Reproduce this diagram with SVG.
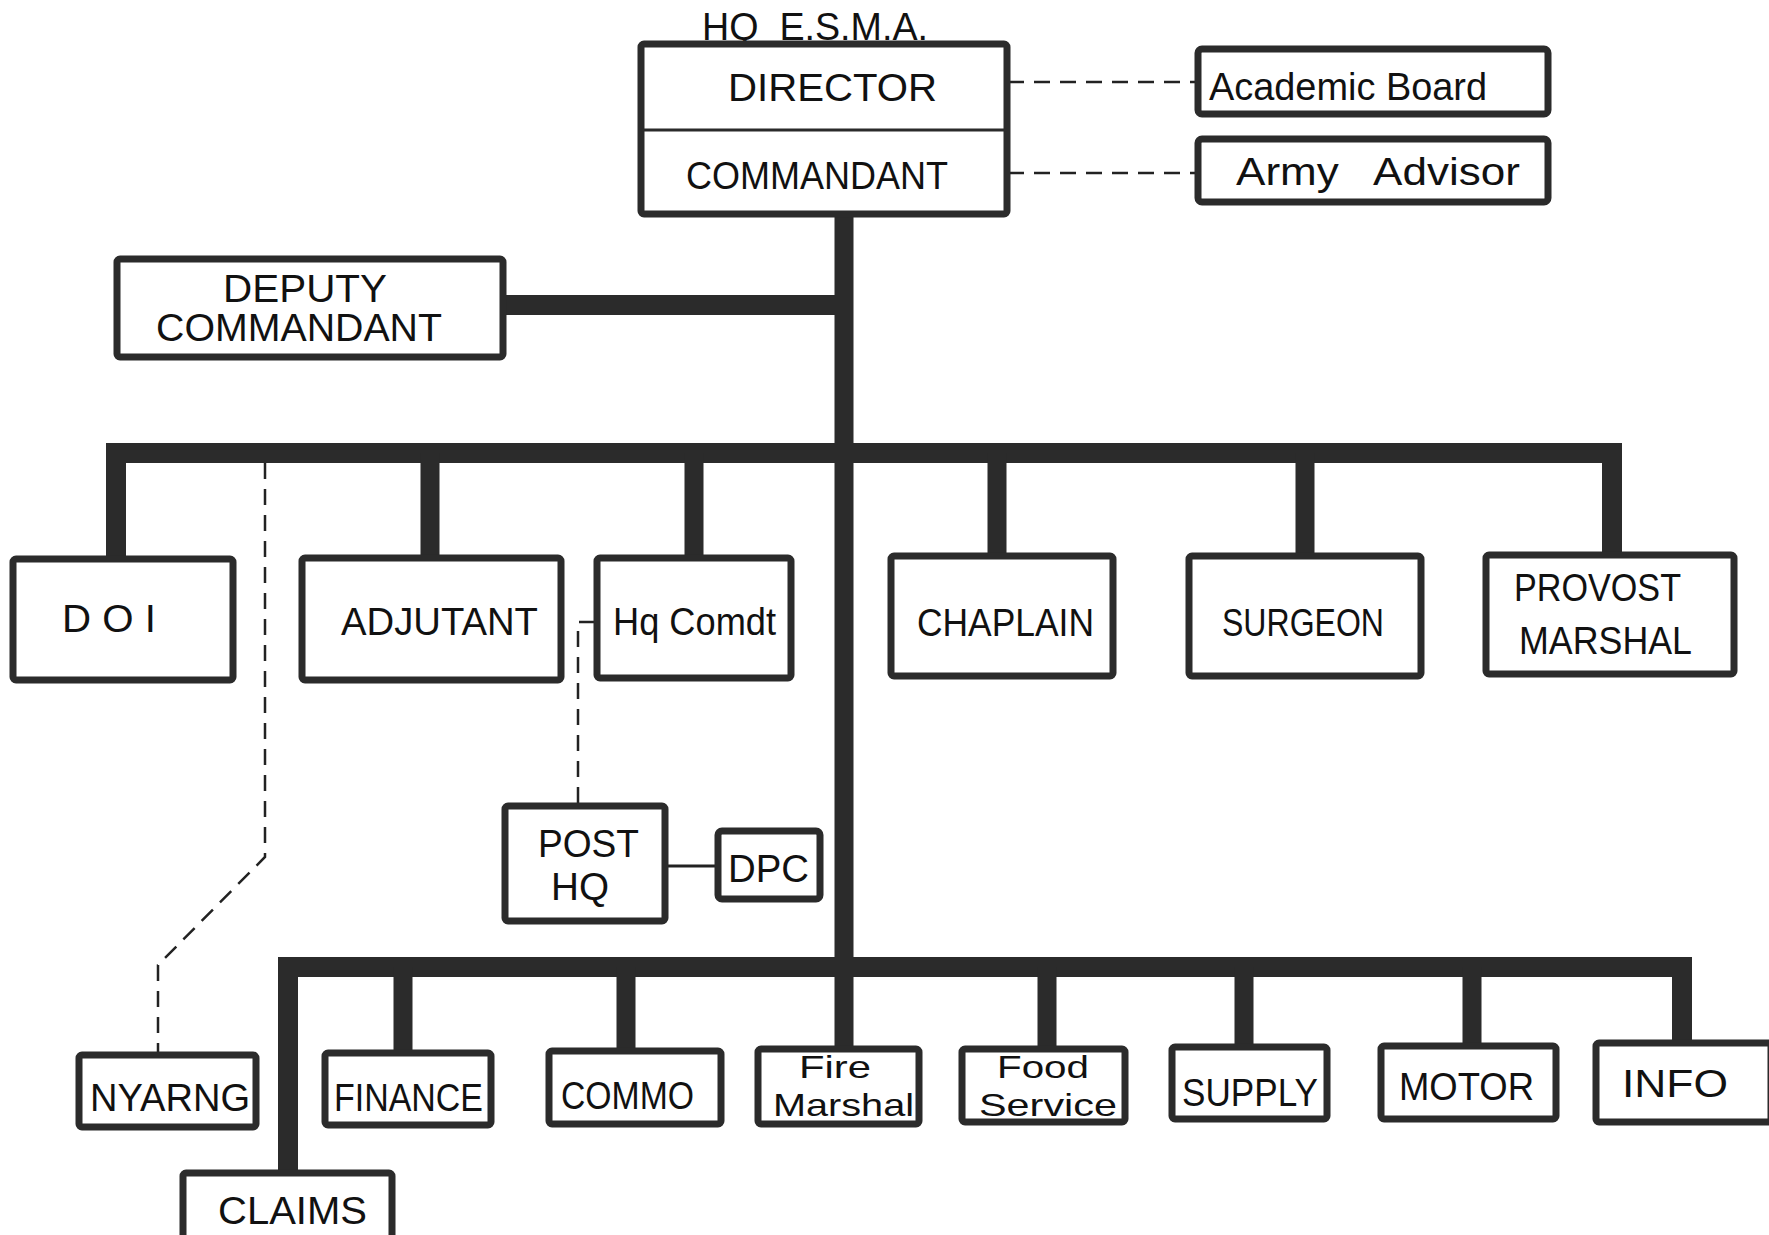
<svg xmlns="http://www.w3.org/2000/svg" width="1769" height="1235" viewBox="0 0 1769 1235">
<style>
.box{fill:#fff;stroke:#2b2b2b;stroke-width:7;stroke-linejoin:round}
.t{font-family:"Liberation Sans","DejaVu Sans",Arial,sans-serif;fill:#111;font-size:38px}
.s{font-size:32px}
.bar{stroke:#2b2b2b;fill:none;stroke-width:19}
.thick{stroke-width:20}
.dash{stroke:#222;stroke-width:2.5;stroke-dasharray:16 10;fill:none}
.thin{stroke:#222;stroke-width:3;fill:none}
</style>
<rect width="1769" height="1235" fill="#fff"/>
<g id="connectors">
  <line class="bar" x1="844" y1="212" x2="844" y2="1050"/>
  <line class="bar thick" x1="502" y1="305" x2="844" y2="305"/>
  <polyline class="bar thick" points="116,560 116,453 1612,453 1612,556"/>
  <line class="bar" x1="430" y1="453" x2="430" y2="558"/>
  <line class="bar" x1="694" y1="453" x2="694" y2="558"/>
  <line class="bar" x1="997" y1="453" x2="997" y2="556"/>
  <line class="bar" x1="1305" y1="453" x2="1305" y2="556"/>
  <polyline class="bar thick" points="288,1174 288,967 1682,967 1682,1044"/>
  <line class="bar" x1="403" y1="967" x2="403" y2="1053"/>
  <line class="bar" x1="626" y1="967" x2="626" y2="1051"/>
  <line class="bar" x1="1047" y1="967" x2="1047" y2="1049"/>
  <line class="bar" x1="1244" y1="967" x2="1244" y2="1047"/>
  <line class="bar" x1="1472" y1="967" x2="1472" y2="1046"/>
  <line class="dash" x1="1008" y1="82" x2="1196" y2="82"/>
  <line class="dash" x1="1008" y1="173" x2="1196" y2="173"/>
  <polyline class="dash" points="265,463 265,857 158,965 158,1055"/>
  <polyline class="dash" points="595,622 578,622 578,806"/>
  <line class="thin" x1="666" y1="866" x2="718" y2="866"/>
</g>
<g id="hq-esma">
  <text class="t" x="702" y="40" textLength="226" lengthAdjust="spacingAndGlyphs" xml:space="preserve">HQ  E.S.M.A.</text>
</g>
<g id="director-commandant">
  <rect class="box" x="641" y="44" width="366" height="170" rx="3"/>
  <line x1="641" y1="130" x2="1007" y2="130" stroke="#2b2b2b" stroke-width="3"/>
  <text class="t" x="728" y="101" textLength="209" lengthAdjust="spacingAndGlyphs">DIRECTOR</text>
  <text class="t" x="686" y="189" textLength="262" lengthAdjust="spacingAndGlyphs">COMMANDANT</text>
</g>
<g id="academic-board">
  <rect class="box" x="1198" y="49" width="350" height="65" rx="4"/>
  <text class="t" x="1209" y="100" textLength="278" lengthAdjust="spacingAndGlyphs">Academic Board</text>
</g>
<g id="army-advisor">
  <rect class="box" x="1198" y="139" width="350" height="63" rx="4"/>
  <text class="t" x="1236" y="185" textLength="284" lengthAdjust="spacingAndGlyphs" xml:space="preserve">Army   Advisor</text>
</g>
<g id="deputy-commandant">
  <rect class="box" x="117" y="259" width="386" height="98" rx="3"/>
  <text class="t" x="223" y="302" textLength="164" lengthAdjust="spacingAndGlyphs">DEPUTY</text>
  <text class="t" x="156" y="341" textLength="286" lengthAdjust="spacingAndGlyphs">COMMANDANT</text>
</g>
<g id="doi">
  <rect class="box" x="13" y="559" width="220" height="121" rx="3"/>
  <text class="t" x="62" y="632" textLength="94" lengthAdjust="spacingAndGlyphs" xml:space="preserve">D O I</text>
</g>
<g id="adjutant">
  <rect class="box" x="302" y="558" width="259" height="122" rx="3"/>
  <text class="t" x="341" y="635" textLength="197" lengthAdjust="spacingAndGlyphs">ADJUTANT</text>
</g>
<g id="hq-comdt">
  <rect class="box" x="597" y="558" width="194" height="120" rx="3"/>
  <text class="t" x="613" y="635" textLength="163" lengthAdjust="spacingAndGlyphs">Hq Comdt</text>
</g>
<g id="chaplain">
  <rect class="box" x="891" y="556" width="222" height="120" rx="3"/>
  <text class="t" x="917" y="636" textLength="177" lengthAdjust="spacingAndGlyphs">CHAPLAIN</text>
</g>
<g id="surgeon">
  <rect class="box" x="1189" y="556" width="232" height="120" rx="3"/>
  <text class="t" x="1222" y="636" textLength="162" lengthAdjust="spacingAndGlyphs">SURGEON</text>
</g>
<g id="provost-marshal">
  <rect class="box" x="1486" y="555" width="248" height="119" rx="3"/>
  <text class="t" x="1514" y="601" textLength="167" lengthAdjust="spacingAndGlyphs">PROVOST</text>
  <text class="t" x="1519" y="654" textLength="173" lengthAdjust="spacingAndGlyphs">MARSHAL</text>
</g>
<g id="post-hq">
  <rect class="box" x="505" y="806" width="160" height="115" rx="3"/>
  <text class="t" x="538" y="857" textLength="101" lengthAdjust="spacingAndGlyphs">POST</text>
  <text class="t" x="551" y="900" textLength="58" lengthAdjust="spacingAndGlyphs">HQ</text>
</g>
<g id="dpc">
  <rect class="box" x="718" y="831" width="102" height="68" rx="4"/>
  <text class="t" x="728" y="882" textLength="81" lengthAdjust="spacingAndGlyphs">DPC</text>
</g>
<g id="nyarng">
  <rect class="box" x="79" y="1055" width="177" height="72" rx="3"/>
  <text class="t" x="90" y="1111" textLength="160" lengthAdjust="spacingAndGlyphs">NYARNG</text>
</g>
<g id="finance">
  <rect class="box" x="325" y="1053" width="166" height="72" rx="3"/>
  <text class="t" x="334" y="1111" textLength="149" lengthAdjust="spacingAndGlyphs">FINANCE</text>
</g>
<g id="commo">
  <rect class="box" x="549" y="1051" width="172" height="73" rx="3"/>
  <text class="t" x="561" y="1109" textLength="133" lengthAdjust="spacingAndGlyphs">COMMO</text>
</g>
<g id="fire-marshal">
  <rect class="box" x="758" y="1049" width="161" height="75" rx="3"/>
  <text class="t s" x="799" y="1078" textLength="72" lengthAdjust="spacingAndGlyphs">Fire</text>
  <text class="t s" x="773" y="1116" textLength="141" lengthAdjust="spacingAndGlyphs">Marshal</text>
</g>
<g id="food-service">
  <rect class="box" x="962" y="1049" width="163" height="73" rx="3"/>
  <text class="t s" x="997" y="1078" textLength="92" lengthAdjust="spacingAndGlyphs">Food</text>
  <text class="t s" x="979" y="1116" textLength="138" lengthAdjust="spacingAndGlyphs">Service</text>
</g>
<g id="supply">
  <rect class="box" x="1172" y="1047" width="155" height="72" rx="3"/>
  <text class="t" x="1182" y="1106" textLength="136" lengthAdjust="spacingAndGlyphs">SUPPLY</text>
</g>
<g id="motor">
  <rect class="box" x="1381" y="1046" width="175" height="73" rx="3"/>
  <text class="t" x="1399" y="1100" textLength="135" lengthAdjust="spacingAndGlyphs">MOTOR</text>
</g>
<g id="info">
  <rect class="box" x="1596" y="1043" width="175" height="79" rx="3"/>
  <text class="t" x="1622" y="1097" textLength="106" lengthAdjust="spacingAndGlyphs">INFO</text>
</g>
<g id="claims">
  <rect class="box" x="183" y="1173" width="209" height="70" rx="3"/>
  <text class="t" x="218" y="1224" textLength="149" lengthAdjust="spacingAndGlyphs">CLAIMS</text>
</g>
</svg>
